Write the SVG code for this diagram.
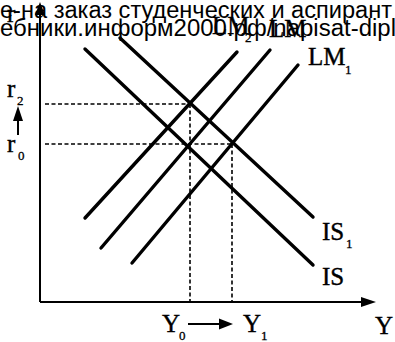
<svg xmlns="http://www.w3.org/2000/svg" width="395" height="342" viewBox="0 0 395 342">
<style>
.ax{stroke:#000;stroke-width:2;fill:none}
.cv{stroke:#000;stroke-width:3.4;fill:none;stroke-linecap:round}
.ds{stroke:#000;stroke-width:1.6;fill:none;stroke-dasharray:4 2.5}
.lb{font-family:"Liberation Serif","DejaVu Serif",serif;font-size:25px;fill:#000;stroke:#000;stroke-width:0.4}
.sb{font-family:"Liberation Serif","DejaVu Serif",serif;font-size:13px;fill:#000;stroke:#000;stroke-width:0.3}
.wm{font-family:"Liberation Sans",Arial,sans-serif;font-size:23px;fill:#000}
</style>
<rect width="395" height="342" fill="#fff"/>
<g id="axes">
<line class="ax" x1="40" y1="302" x2="40" y2="12"/>
<polygon points="40,2 35,15 45,15"/>
<line class="ax" x1="40" y1="302" x2="364" y2="302"/>
<polygon points="376,302 361,297 361,307"/>
<text class="lb" x="7" y="22">r</text>
<text class="lb" x="375" y="334">Y</text>
</g>
<g id="connectors">
<line class="ds" x1="45" y1="104" x2="190" y2="104"/>
<line class="ds" x1="45" y1="144" x2="232" y2="144"/>
<line class="ds" x1="190" y1="104" x2="190" y2="302"/>
<line class="ds" x1="232" y1="144" x2="232" y2="302"/>
<line class="ax" x1="18" y1="135" x2="18" y2="118"/>
<polygon points="18,106 13,121 23,121"/>
<line class="ax" x1="188" y1="324" x2="222" y2="324"/>
<polygon points="233,324 219,318.5 219,329.5"/>
</g>
<g id="IS">
<line class="cv" x1="85" y1="49" x2="313" y2="265"/>
<text class="lb" x="322" y="285">IS</text>
</g>
<g id="IS1">
<line class="cv" x1="120" y1="38" x2="313" y2="217"/>
<text class="lb" x="322" y="240">IS</text>
<text class="sb" x="346" y="248">1</text>
</g>
<g id="LM2">
<line class="cv" x1="85" y1="218" x2="237" y2="52"/>
<text class="lb" x="212" y="34">LM</text>
<text class="sb" x="245" y="42">2</text>
</g>
<g id="LM">
<line class="cv" x1="101" y1="248" x2="270" y2="50"/>
<text class="lb" x="269" y="37">LM</text>
</g>
<g id="LM1">
<line class="cv" x1="132" y1="263" x2="298" y2="65"/>
<text class="lb" x="308" y="65">LM</text>
<text class="sb" x="345" y="74">1</text>
</g>
<g id="r2">
<text class="lb" x="7" y="97">r</text>
<text class="sb" x="17" y="105">2</text>
</g>
<g id="r0">
<text class="lb" x="7" y="152">r</text>
<text class="sb" x="18" y="160">0</text>
</g>
<g id="Y0">
<text class="lb" x="162" y="332">Y</text>
<text class="sb" x="179" y="340">0</text>
</g>
<g id="Y1">
<text class="lb" x="243" y="332">Y</text>
<text class="sb" x="261" y="340">1</text>
</g>
<g id="watermark">
<text class="wm" x="0" y="18" textLength="392" lengthAdjust="spacingAndGlyphs">е-на заказ студенческих и аспирант</text>
<text class="wm" x="0" y="35.5" textLength="396" lengthAdjust="spacingAndGlyphs">ебники.информ2000.рф/napisat-dipl</text>
</g>
</svg>
